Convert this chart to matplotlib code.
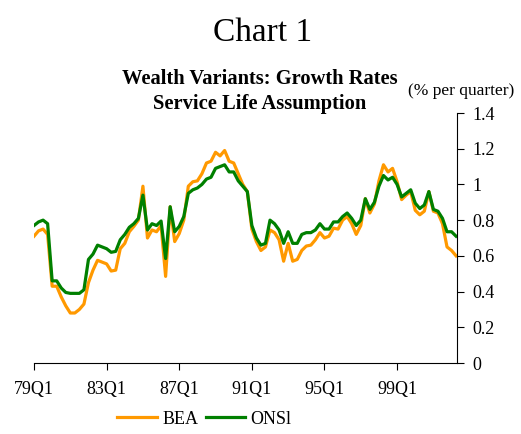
import matplotlib
matplotlib.use("Agg")
import matplotlib.pyplot as plt

# quarterly growth rates, 79Q1 .. 02Q2 (% per quarter)
bea = [0.71, 0.74, 0.75, 0.72, 0.43, 0.43, 0.37, 0.32, 0.28, 0.28,
       0.30, 0.33, 0.45, 0.52, 0.575, 0.565, 0.555, 0.515, 0.52, 0.64,
       0.67, 0.735, 0.765, 0.80, 0.99, 0.70, 0.745, 0.735, 0.77, 0.485,
       0.875, 0.68, 0.725, 0.80, 0.99, 1.015, 1.02, 1.06, 1.12, 1.13,
       1.18, 1.16, 1.19, 1.13, 1.12, 1.06, 1.00, 0.96, 0.75, 0.68,
       0.63, 0.65, 0.745, 0.73, 0.69, 0.57, 0.67, 0.57, 0.58, 0.63,
       0.655, 0.66, 0.69, 0.73, 0.70, 0.71, 0.755, 0.75, 0.80, 0.82,
       0.78, 0.72, 0.77, 0.92, 0.84, 0.89, 1.02, 1.11, 1.07, 1.09,
       1.015, 0.915, 0.94, 0.96, 0.855, 0.83, 0.85, 0.96, 0.85, 0.84,
       0.78, 0.65, 0.63, 0.60]

onsl = [0.77, 0.79, 0.80, 0.78, 0.46, 0.46, 0.42, 0.395, 0.39, 0.39,
        0.39, 0.41, 0.58, 0.61, 0.66, 0.65, 0.64, 0.62, 0.625, 0.69,
        0.72, 0.76, 0.78, 0.81, 0.94, 0.745, 0.78, 0.77, 0.795, 0.585,
        0.875, 0.735, 0.765, 0.82, 0.95, 0.97, 0.98, 1.00, 1.03, 1.04,
        1.09, 1.10, 1.11, 1.07, 1.07, 1.02, 0.99, 0.96, 0.77, 0.70,
        0.66, 0.67, 0.80, 0.78, 0.745, 0.67, 0.735, 0.67, 0.67, 0.72,
        0.73, 0.73, 0.745, 0.78, 0.75, 0.75, 0.79, 0.79, 0.82, 0.84,
        0.81, 0.77, 0.80, 0.92, 0.86, 0.90, 0.99, 1.05, 1.025, 1.04,
        1.00, 0.93, 0.95, 0.97, 0.895, 0.865, 0.885, 0.96, 0.86, 0.85,
        0.81, 0.735, 0.735, 0.71]

quarters = ["%02dQ%d" % ((79 + i // 4) % 100, i % 4 + 1) for i in range(len(bea))]
xtick_labels = ["79Q1", "83Q1", "87Q1", "91Q1", "95Q1", "99Q1"]
ytick_values = [0, 0.2, 0.4, 0.6, 0.8, 1.0, 1.2, 1.4]
ytick_labels = ["0", "0.2", "0.4", "0.6", "0.8", "1", "1.2", "1.4"]

plt.rcParams["font.family"] = ["Liberation Serif", "DejaVu Serif"]

fig = plt.figure(figsize=(5.21, 4.34), dpi=100)
ax = fig.add_axes([34 / 521, 71 / 434, 423 / 521, 250 / 434])

x = list(range(len(quarters)))
ax.plot(x, bea, color="#FF9900", lw=2.3, label="BEA")
ax.plot(x, onsl, color="#008000", lw=2.3, label="ONSl")

ax.set_xlim(0, len(quarters) - 0.8)
ax.set_ylim(0, 1.4)
ax.set_xticks([quarters.index(q) for q in xtick_labels])
ax.set_xticklabels(xtick_labels, fontsize=13)
ax.set_yticks(ytick_values)
ax.set_yticklabels(ytick_labels, fontsize=13)

ax.yaxis.tick_right()
ax.spines["left"].set_visible(False)
ax.spines["top"].set_visible(False)
ax.tick_params(axis="x", direction="out", length=5, pad=8)
ax.tick_params(axis="y", direction="out", length=5, pad=6)

fig.text(0.503, 0.925, "Chart 1", ha="center", va="center", fontsize=24)
fig.text(0.499, 0.818, "Wealth Variants: Growth Rates", ha="center", va="center",
         fontsize=14.8, fontweight="bold")
fig.text(0.499, 0.76, "Service Life Assumption", ha="center", va="center",
         fontsize=14.8, fontweight="bold")
fig.text(0.885, 0.79, "(% per quarter)", ha="center", va="center", fontsize=12.5)

ax.legend(loc="center", bbox_to_anchor=(0.403, -0.225), ncol=2, frameon=False,
          fontsize=13, handlelength=2.2, columnspacing=0.4, handletextpad=0.3)

fig.savefig("out.png", dpi=100)
